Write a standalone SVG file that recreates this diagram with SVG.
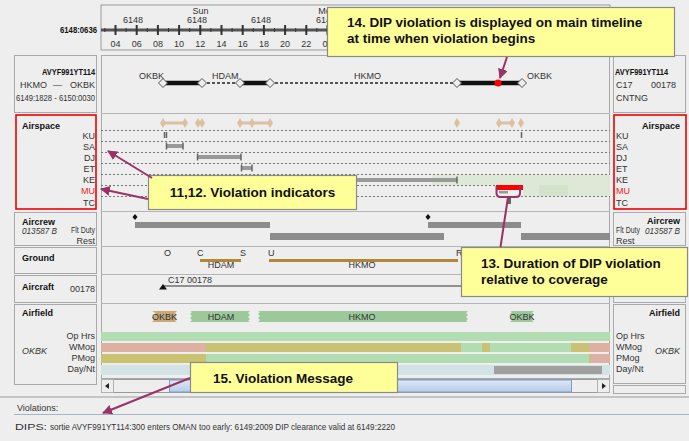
<svg xmlns="http://www.w3.org/2000/svg" width="689" height="441" viewBox="0 0 689 441">
<defs>
<style>
.t{font-family:"Liberation Sans",Arial,sans-serif;font-size:9px;fill:#333}
.b{font-weight:bold;fill:#111}
.i{font-style:italic}
.c{font-family:"Liberation Sans",Arial,sans-serif;font-size:13.5px;font-weight:bold;fill:#111}
.cell{fill:#eeeeee;stroke:#a9a9a9;stroke-width:1}
.red{fill:none;stroke:#ee0000;stroke-width:1.6}
.dot{stroke:#777;stroke-width:1;stroke-dasharray:2,2}
.gbar{fill:#999}
.cap{stroke:#666;stroke-width:1.5}
.crew{fill:#8c8c8c}
.call{fill:#ffff99;stroke:#8a8a8a;stroke-width:1.2}
.arr{stroke:#993366;stroke-width:2;fill:none}
</style>
<marker id="ah" viewBox="0 0 10 10" refX="9" refY="5" markerWidth="5" markerHeight="5" orient="auto" markerUnits="strokeWidth">
<path d="M0 0 L10 5 L0 10 z" fill="#993366"/>
</marker>
<path id="dh" d="M0 -4.5 L4.5 0 L0 4.5 L-4.5 0 z" fill="#eeeeee" stroke="#555" stroke-width="1"/>
<path id="db" d="M0 -5 L3 0 L0 5 L-3 0 z" fill="#dcc0a0"/>
<linearGradient id="thumb" x1="0" y1="0" x2="0" y2="1">
<stop offset="0" stop-color="#dfe9f7"/><stop offset="1" stop-color="#b7cbe8"/>
</linearGradient>
</defs>
<rect width="689" height="441" fill="#eeeeee"/>

<!-- timeline -->
<g id="timeline">
<rect x="101" y="5" width="509" height="45" fill="#eeeeee" stroke="#9a9a9a"/>
<text class="t b" x="97" y="33" text-anchor="end" font-size="9.5" textLength="37" lengthAdjust="spacingAndGlyphs">6148:0636</text>
<line x1="101" y1="30" x2="610" y2="30" stroke="#555" stroke-width="3"/>
<path d="M115.5 25v10M136.7 25v10M157.9 25v10M179.1 25v10M200.3 25v10M221.5 25v10M242.7 25v10M263.9 25v10M285.1 25v10M306.3 25v10M327.5 25v10M348.7 25v10M369.9 25v10M391.1 25v10M412.3 25v10M433.5 25v10M454.7 25v10M475.9 25v10M497.1 25v10M518.3 25v10M539.5 25v10M560.7 25v10M581.9 25v10M603.1 25v10" stroke="#333" stroke-width="2"/>
<path d="M104.9 28v4M126.1 28v4M147.3 28v4M168.5 28v4M189.7 28v4M210.9 28v4M232.1 28v4M253.3 28v4M274.5 28v4M295.7 28v4M316.9 28v4" stroke="#333" stroke-width="1"/>
<g class="t" text-anchor="middle" fill="#444">
<text x="115.5" y="47">04</text><text x="136.7" y="47">06</text><text x="157.9" y="47">08</text><text x="179.1" y="47">10</text><text x="200.3" y="47">12</text><text x="221.5" y="47">14</text><text x="242.7" y="47">16</text><text x="263.9" y="47">18</text><text x="285.1" y="47">20</text><text x="306.3" y="47">22</text><text x="327.5" y="47">00</text>
<text x="133" y="23">6148</text><text x="197" y="23">6148</text><text x="261" y="23">6148</text><text x="326" y="23">6149</text>
<text x="200.5" y="14">Sun</text><text x="327" y="14">Mon</text>
</g>
</g>

<!-- left panel -->
<g id="left-panel">
<rect class="cell" x="14.5" y="55.5" width="82" height="57"/>
<text class="t b" x="95" y="75" text-anchor="end" font-size="9.5" textLength="53" lengthAdjust="spacingAndGlyphs">AVYF991YT114</text>
<text class="t" x="20" y="88">HKMO</text><text class="t" x="53" y="88">—</text><text class="t" x="95" y="88" text-anchor="end">OKBK</text>
<text class="t" x="16" y="101" textLength="79" lengthAdjust="spacingAndGlyphs">6149:1828 - 6150:0030</text>
<rect class="red" x="16" y="115" width="80" height="94"/>
<text class="t b" x="22" y="129" font-size="9.5">Airspace</text>
<g class="t" text-anchor="end">
<text x="95" y="139">KU</text><text x="95" y="150">SA</text><text x="95" y="161">DJ</text><text x="95" y="172">ET</text><text x="95" y="183">KE</text><text x="95" y="194" fill="#ee2222">MU</text><text x="95" y="206">TC</text>
</g>
<rect class="cell" x="14.5" y="212.5" width="82" height="33"/>
<text class="t b" x="22" y="225" font-size="9.5">Aircrew</text>
<text class="t i" x="22" y="234" font-size="8.5" textLength="35" lengthAdjust="spacingAndGlyphs">013587 B</text>
<text class="t" x="95" y="233" text-anchor="end" font-size="8" textLength="24" lengthAdjust="spacingAndGlyphs">Flt Duty</text>
<text class="t" x="95" y="244" text-anchor="end" font-size="8">Rest</text>
<rect class="cell" x="14.5" y="247.5" width="82" height="26"/>
<text class="t b" x="22" y="261" font-size="9.5">Ground</text>
<rect class="cell" x="14.5" y="275.5" width="82" height="27"/>
<text class="t b" x="22" y="290" font-size="9.5">Aircraft</text>
<text class="t" x="95" y="292" text-anchor="end">00178</text>
<rect class="cell" x="14.5" y="304.5" width="82" height="80"/>
<text class="t b" x="22" y="316" font-size="9.5">Airfield</text>
<text class="t i" x="22" y="354" font-size="10">OKBK</text>
<g class="t" text-anchor="end" font-size="8">
<text x="95" y="339">Op Hrs</text><text x="95" y="350">WMog</text><text x="95" y="361">PMog</text><text x="95" y="372">Day/Nt</text>
</g>
</g>

<!-- right panel -->
<g id="right-panel">
<rect class="cell" x="613.5" y="55.5" width="72" height="57"/>
<text class="t b" x="615" y="75" font-size="9.5" textLength="53" lengthAdjust="spacingAndGlyphs">AVYF991YT114</text>
<text class="t" x="616" y="88">C17</text><text class="t" x="651" y="88">00178</text>
<text class="t" x="616" y="101">CNTNG</text>
<rect class="red" x="614" y="115" width="72" height="94"/>
<text class="t b" x="680" y="129" text-anchor="end" font-size="9.5">Airspace</text>
<g class="t">
<text x="616" y="139">KU</text><text x="616" y="150">SA</text><text x="616" y="161">DJ</text><text x="616" y="172">ET</text><text x="616" y="183">KE</text><text x="616" y="194" fill="#ee2222">MU</text><text x="616" y="206">TC</text>
</g>
<rect class="cell" x="613.5" y="212.5" width="72" height="33"/>
<text class="t b" x="680" y="224" text-anchor="end" font-size="9.5">Aircrew</text>
<text class="t" x="616" y="233" font-size="8" textLength="24" lengthAdjust="spacingAndGlyphs">Flt Duty</text>
<text class="t i" x="680" y="234" text-anchor="end" font-size="8.5" textLength="35" lengthAdjust="spacingAndGlyphs">013587 B</text>
<text class="t" x="616" y="244" font-size="8">Rest</text>
<rect class="cell" x="613.5" y="247.5" width="72" height="26"/>
<rect class="cell" x="613.5" y="275.5" width="72" height="27"/>
<rect class="cell" x="613.5" y="304.5" width="72" height="79"/>
<text class="t b" x="680" y="316" text-anchor="end" font-size="9.5">Airfield</text>
<text class="t i" x="680" y="354" text-anchor="end" font-size="10">OKBK</text>
<g class="t" font-size="8">
<text x="616" y="339">Op Hrs</text><text x="616" y="350">WMog</text><text x="616" y="361">PMog</text><text x="616" y="372">Day/Nt</text>
</g>
<rect class="cell" x="613.5" y="385.5" width="72" height="8"/>
</g>

<!-- main area -->
<g id="main-area">
<rect x="101.5" y="55.5" width="508" height="323" fill="#eeeeee" stroke="#a9a9a9"/>
<path d="M101 113.5H610M101 211.5H610M101 246.5H610M101 274.5H610M101 303.5H610" stroke="#b5b5b5" stroke-width="1"/>
<g class="t" fill="#444" font-size="8.5">
<text x="139" y="79">OKBK</text><text x="212" y="79">HDAM</text><text x="354" y="79">HKMO</text><text x="527" y="79">OKBK</text>
</g>
<path d="M163 83H202M240 83H270M457 83H522" stroke="#111" stroke-width="4.5"/>
<path d="M202 83H240M270 83H457" stroke="#222" stroke-width="1.5" stroke-dasharray="3,2"/>
<use href="#dh" x="163" y="83"/><use href="#dh" x="202" y="83"/><use href="#dh" x="240" y="83"/><use href="#dh" x="270" y="83"/><use href="#dh" x="457" y="83"/><use href="#dh" x="522" y="83"/>
<circle cx="498" cy="83" r="3.5" fill="#ff0000"/>
<path class="dot" d="M101 130.5H610M101 141.5H610M101 152.5H610M101 163.5H610M101 174.5H610M101 185.5H610M101 196.5H610"/>
<path d="M163 123H185M240 123H270M499 123H512" stroke="#dcc0a0" stroke-width="3"/>
<use href="#db" x="163" y="123"/><use href="#db" x="185" y="123"/><use href="#db" x="198" y="123"/><use href="#db" x="202" y="123"/><use href="#db" x="240" y="123"/><use href="#db" x="252" y="123"/><use href="#db" x="270" y="123"/><use href="#db" x="457" y="123"/><use href="#db" x="499" y="123"/><use href="#db" x="512" y="123"/><use href="#db" x="521" y="123"/>
<rect x="432" y="175" width="178" height="10" fill="#dde8d6"/>
<rect x="523" y="185" width="87" height="11" fill="#dde8d6"/>
<rect x="539" y="185" width="29" height="11" fill="#d2e2cb"/>
<path class="cap" d="M164.5 132v6M166.5 132v6M521.5 132v6"/>
<rect class="gbar" x="166" y="144" width="17" height="4"/><path class="cap" d="M166.5 142.5v7M183 142.5v7"/>
<rect class="gbar" x="197" y="155" width="44" height="4"/><path class="cap" d="M197.5 153.5v7M241 153.5v7"/>
<rect class="gbar" x="241" y="166" width="11" height="4"/><path class="cap" d="M241.5 164.5v7M252 164.5v7"/>
<rect class="gbar" x="300" y="178" width="157" height="4"/><path class="cap" d="M457 176.5v7"/>
<rect x="496" y="185" width="27" height="5" fill="#ff0000"/>
<rect class="gbar" x="499" y="191" width="9" height="2.5"/>
<rect x="508" y="198" width="3" height="6" fill="#666"/>
<path d="M135 214L137.5 217L135 220L132.5 217z" fill="#111"/>
<path d="M428 214L430.5 217L428 220L425.5 217z" fill="#111"/>
<rect class="crew" x="135" y="222" width="135" height="6"/>
<rect class="crew" x="270" y="233" width="174" height="7"/>
<rect class="crew" x="428" y="222" width="93" height="6"/>
<rect class="crew" x="521" y="233" width="89" height="7"/>
<g class="t" font-size="8" fill="#444">
<text x="164" y="256">O</text><text x="197" y="256">C</text><text x="240" y="256">S</text><text x="268" y="256">U</text><text x="456" y="256">R</text>
<text x="221" y="268" text-anchor="middle">HDAM</text><text x="362" y="268" text-anchor="middle">HKMO</text>
</g>
<path d="M200 260.5H241M269 260.5H458" stroke="#b08838" stroke-width="3"/>
<text class="t" x="168" y="283" font-size="8">C17 00178</text>
<line x1="163" y1="286" x2="610" y2="286" stroke="#333" stroke-width="1"/>
<path d="M159 289.5L163 284L167 289.5z" fill="#111"/>
<path d="M152 311H177l-2 2l2 2l-2 2l2 2l-2 2l2 1H152l2-2l-2-2l2-2l2-2l-2-2z" fill="#c8a878"/>
<path d="M190 311H250l-2 2l2 2l-2 2l2 2l-2 2l2 1H190l2-2l-2-2l2-2l-2-2l2-2z" fill="#9cc89c"/>
<path d="M258 311H468l-2 2l2 2l-2 2l2 2l-2 2l2 1H258l2-2l-2-2l2-2l-2-2l2-2z" fill="#9cc89c"/>
<path d="M510 311H534l-2 2l2 2l-2 2l2 2l-2 2l2 1H510l2-2l-2-2l2-2l-2-2l2-2z" fill="#9cc89c"/>
<g class="t" font-size="8" fill="#444" text-anchor="middle">
<text x="164.5" y="320">OKBK</text><text x="221" y="320">HDAM</text><text x="362" y="320">HKMO</text><text x="522" y="320">OKBK</text>
</g>
<rect x="101" y="332" width="509" height="9" fill="#b2ddb2"/>
<rect x="101" y="343" width="105" height="9" fill="#dcb0a2"/>
<rect x="206" y="343" width="255" height="9" fill="#c9c272"/>
<rect x="461" y="343" width="21" height="9" fill="#b2ddb2"/>
<rect x="482" y="343" width="8" height="9" fill="#c9c272"/>
<rect x="490" y="343" width="81" height="9" fill="#b2ddb2"/>
<rect x="571" y="343" width="18" height="9" fill="#c9c272"/>
<rect x="589" y="343" width="21" height="9" fill="#dcb0a2"/>
<rect x="101" y="354" width="105" height="9" fill="#c9c272"/>
<rect x="206" y="354" width="383" height="9" fill="#b2ddb2"/>
<rect x="589" y="354" width="2" height="9" fill="#c9c272"/>
<rect x="591" y="354" width="19" height="9" fill="#dcb0a2"/>
<rect x="101" y="365" width="509" height="10" fill="#d3e2e5"/>
<rect x="494" y="366" width="108" height="8" fill="#a0a0a0"/>
<rect x="101.5" y="379.5" width="508" height="13" fill="#eeeeee" stroke="#9a9a9a"/>
<rect x="101.5" y="379.5" width="12" height="13" fill="#eeeeee" stroke="#b0b0b0"/>
<path d="M105 386L109 383V389z" fill="#222"/>
<rect x="169.5" y="380" width="402" height="12" fill="url(#thumb)" stroke="#7d9cc8"/>
<rect x="597.5" y="379.5" width="12" height="13" fill="#eeeeee" stroke="#b0b0b0"/>
<path d="M606 386L602 383V389z" fill="#222"/>
</g>

<!-- violations -->
<g id="violations">
<line x1="0" y1="397" x2="689" y2="397" stroke="#c4c4c4" stroke-width="2"/>
<text class="t" x="17" y="411" font-size="9.5" fill="#222">Violations:</text>
<line x1="14" y1="414.5" x2="689" y2="414.5" stroke="#a8b4c4" stroke-width="1"/>
<text class="t" x="15" y="430" font-size="11" fill="#ee0000" textLength="32" lengthAdjust="spacingAndGlyphs">DIPS:</text>
<text class="t" x="50" y="430" font-size="11" fill="#111" textLength="345" lengthAdjust="spacingAndGlyphs">sortie AVYF991YT114:300 enters OMAN too early: 6149:2009 DIP clearance valid at 6149:2220</text>
</g>

<!-- callouts -->
<g id="callout-14">
<rect class="call" x="327.5" y="7.5" width="347" height="49"/>
<text class="c" x="347" y="27">14.  DIP violation is displayed on main timeline</text>
<text class="c" x="347" y="43">at time when violation begins</text>
</g>
<g id="callout-11-12">
<rect class="call" x="148.5" y="175.5" width="208" height="34"/>
<text class="c" x="252.5" y="197" text-anchor="middle">11,12. Violation indicators</text>
</g>
<g id="callout-13">
<rect class="call" x="461.5" y="247.5" width="226" height="49"/>
<text class="c" x="481" y="268">13. Duration of DIP violation</text>
<text class="c" x="481" y="284">relative to coverage</text>
</g>
<g id="callout-15">
<rect class="call" x="190.5" y="362.5" width="207" height="30"/>
<text class="c" x="213" y="383">15.  Violation Message</text>
</g>

<!-- connectors -->
<g id="connectors">
<line class="arr" x1="507" y1="57" x2="500" y2="78" marker-end="url(#ah)"/>
<line class="arr" x1="152" y1="178" x2="108" y2="151" marker-end="url(#ah)"/>
<line class="arr" x1="148" y1="199" x2="101" y2="189" marker-end="url(#ah)"/>
<line class="arr" x1="190" y1="378" x2="103" y2="413" marker-end="url(#ah)"/>
<path class="arr" d="M496.5 186V193Q496.5 197 500.5 197H516Q520 197 520 193V186M508 197L500.5 247"/>
</g>
</svg>
